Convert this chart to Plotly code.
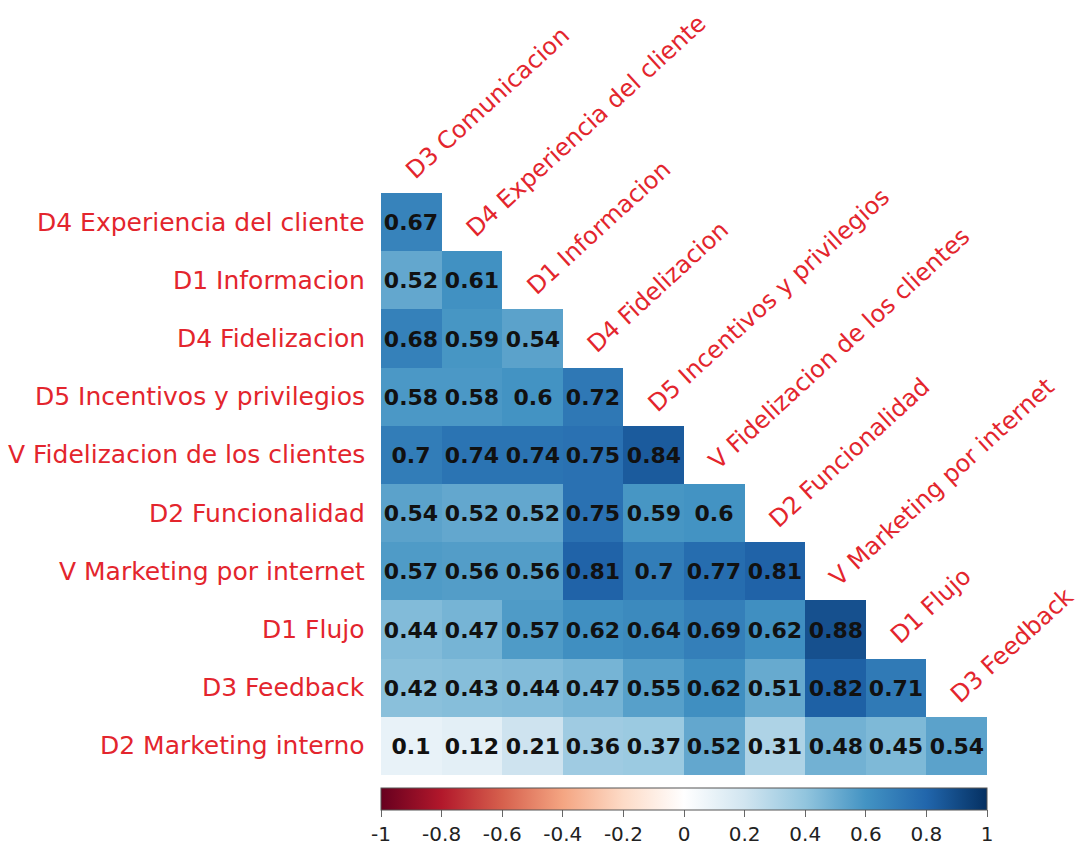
import plotly.graph_objects as go

# ---- data ----
row_labels = [
    "D4 Experiencia del cliente", "D1 Informacion", "D4 Fidelizacion",
    "D5 Incentivos y privilegios", "V Fidelizacion de los clientes",
    "D2 Funcionalidad", "V Marketing por internet", "D1 Flujo",
    "D3 Feedback", "D2 Marketing interno",
]
col_labels = [
    "D3 Comunicacion", "D4 Experiencia del cliente", "D1 Informacion",
    "D4 Fidelizacion", "D5 Incentivos y privilegios",
    "V Fidelizacion de los clientes", "D2 Funcionalidad",
    "V Marketing por internet", "D1 Flujo", "D3 Feedback",
]
corr_rows = [
    [0.67],
    [0.52, 0.61],
    [0.68, 0.59, 0.54],
    [0.58, 0.58, 0.60, 0.72],
    [0.70, 0.74, 0.74, 0.75, 0.84],
    [0.54, 0.52, 0.52, 0.75, 0.59, 0.60],
    [0.57, 0.56, 0.56, 0.81, 0.70, 0.77, 0.81],
    [0.44, 0.47, 0.57, 0.62, 0.64, 0.69, 0.62, 0.88],
    [0.42, 0.43, 0.44, 0.47, 0.55, 0.62, 0.51, 0.82, 0.71],
    [0.10, 0.12, 0.21, 0.36, 0.37, 0.52, 0.31, 0.48, 0.45, 0.54],
]
cbar_tickvals = [-1, -0.8, -0.6, -0.4, -0.2, 0, 0.2, 0.4, 0.6, 0.8, 1]
cbar_ticktext = ["-1", "-0.8", "-0.6", "-0.4", "-0.2", "0", "0.2", "0.4", "0.6", "0.8", "1"]

n = len(col_labels)
z = [[(r[j] if j < len(r) else None) for j in range(n)] for r in corr_rows]
txt = [[(f"{r[j]:g}" if j < len(r) else "") for j in range(n)] for r in corr_rows]

rdbu = ["#67001F", "#B2182B", "#D6604D", "#F4A582", "#FDDBC7", "#FFFFFF",
        "#D1E5F0", "#92C5DE", "#4393C3", "#2166AC", "#053061"]
colorscale = [[i / 10, c] for i, c in enumerate(rdbu)]

W, H = 1089, 852
L, R, T, B = 381, 102, 193, 77
PLOT_H = H - T - B
LABEL_RED = "#E3252D"
FONT = "DejaVu Sans"

fig = go.Figure(go.Heatmap(
    z=z, x=list(range(n)), y=list(range(len(row_labels))),
    text=txt, texttemplate="%{text}",
    textfont=dict(family=FONT, size=22, color="#111111", weight="bold"),
    colorscale=colorscale, zmin=-1, zmax=1, hoverongaps=False,
    colorbar=dict(
        orientation="h",
        x=0.5, xanchor="center", y=-13 / PLOT_H, yanchor="top",
        len=1, lenmode="fraction", thickness=22, thicknessmode="pixels",
        xpad=0, ypad=0, outlinewidth=1, outlinecolor="#555555",
        ticks="outside", ticklen=7, tickcolor="#666666",
        tickvals=cbar_tickvals, ticktext=cbar_ticktext,
        tickfont=dict(family=FONT, size=20, color="#222222"),
    ),
))

annotations = []
for i, lab in enumerate(row_labels):
    annotations.append(dict(
        x=0, xref="paper", y=i, yref="y", text=lab, showarrow=False,
        xanchor="right", yanchor="middle", xshift=-14,
        font=dict(family=FONT, size=25, color=LABEL_RED),
    ))
for j, lab in enumerate(col_labels):
    annotations.append(dict(
        x=j, xref="x", y=j - 0.5, yref="y", text=lab, showarrow=False,
        xanchor="left", yanchor="bottom", textangle=-42.5,
        xshift=-14, yshift=6,
        font=dict(family=FONT, size=24, color=LABEL_RED),
    ))

fig.update_layout(
    width=W, height=H,
    margin=dict(l=L, r=R, t=T, b=B, autoexpand=False),
    paper_bgcolor="white", plot_bgcolor="white",
    xaxis=dict(range=[-0.5, n - 0.5], showgrid=False, zeroline=False,
               showticklabels=False, ticks=""),
    yaxis=dict(range=[len(row_labels) - 0.5, -0.5], showgrid=False,
               zeroline=False, showticklabels=False, ticks=""),
    annotations=annotations,
)

fig.write_html("out.html")
